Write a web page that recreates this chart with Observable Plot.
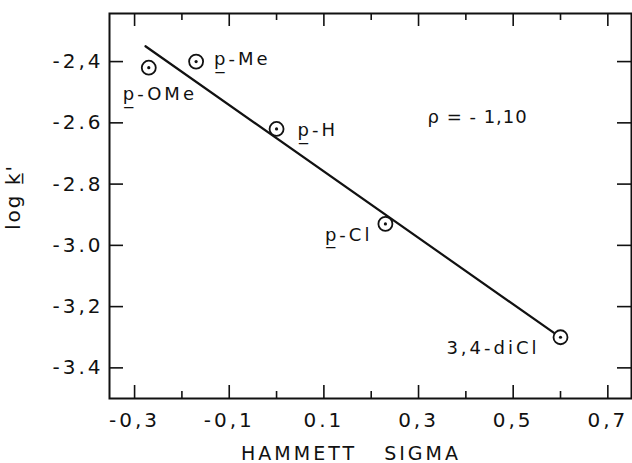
<!DOCTYPE html>
<html>
<head>
<meta charset="utf-8">
<script src="https://cdn.jsdelivr.net/npm/d3@7"></script>
<script src="https://cdn.jsdelivr.net/npm/@observablehq/plot@0.6"></script>
<style>
  html, body { margin: 0; padding: 0; background: #fff; }
  #chart svg { display: block; }
</style>
</head>
<body>
<div id="chart"></div>
<script>
// ---- data ----
const substituents = ["p\u0332-OMe", "p\u0332-Me", "p\u0332-H", "p\u0332-Cl", "3,4-diCl"];
const sigma = [-0.27, -0.17, 0.0, 0.23, 0.60];
const logK = [-2.42, -2.40, -2.62, -2.93, -3.30];

const fitSigma = [-0.277, 0.59];
const fitLogK = [-2.35, -3.29];

const xMajorTicks = [-0.3, -0.1, 0.1, 0.3, 0.5, 0.7];
const xMajorLabels = ["-0,3", "-0,1", "0.1", "0,3", "0,5", "0,7"];
const xMinorTicks = [-0.2, 0.0, 0.2, 0.4, 0.6];
const yTicks = [-2.4, -2.6, -2.8, -3.0, -3.2, -3.4];
const yTickLabels = ["-2,4", "-2.6", "-2.8", "-3.0", "-3,2", "-3.4"];

const rhoText = "\u03C1 = - 1,10";

// ---- layout (label placement in pixels) ----
const labelDx = [-26, 18, 21, -13, -21];
const labelDy = [27, -2, 1, 11, 11];
const labelAnchor = ["start", "start", "start", "end", "end"];

const points = substituents.map((name, i) => ({name, sigma: sigma[i], logK: logK[i], i}));
const fit = fitSigma.map((s, i) => ({sigma: s, logK: fitLogK[i]}));

const W = 632, H = 463;
const mt = 13, mb = 65, ml = 109, mr = 1;
const frameH = H - mt - mb;
const frameW = W - ml - mr;
const font = "DejaVu Sans, sans-serif";

const labelMarks = points.map(p => Plot.text([p], {
  x: "sigma", y: "logK", text: "name",
  dx: labelDx[p.i], dy: labelDy[p.i], textAnchor: labelAnchor[p.i],
  fontSize: 18, fill: "#111"
}));

const chart = Plot.plot({
  width: W, height: H,
  marginTop: mt, marginBottom: mb, marginLeft: ml, marginRight: mr,
  style: {fontFamily: font, background: "#fff", color: "#111", letterSpacing: "3px"},
  x: {domain: [-0.353, 0.75], label: null},
  y: {domain: [-3.5, -2.243], label: null},
  marks: [
    Plot.frame({stroke: "#111", strokeWidth: 2}),
    // major ticks bottom & top (inward)
    Plot.tickX(xMajorTicks, {x: d => d, insetTop: frameH - 13, stroke: "#111", strokeWidth: 1.6}),
    Plot.tickX(xMajorTicks, {x: d => d, insetBottom: frameH - 13, stroke: "#111", strokeWidth: 1.6}),
    Plot.tickX(xMinorTicks, {x: d => d, insetTop: frameH - 7, stroke: "#111", strokeWidth: 1.6}),
    Plot.tickX(xMinorTicks, {x: d => d, insetBottom: frameH - 7, stroke: "#111", strokeWidth: 1.6}),
    // y ticks left & right (inward)
    Plot.tickY(yTicks, {y: d => d, insetRight: frameW - 14, stroke: "#111", strokeWidth: 1.6}),
    Plot.tickY(yTicks, {y: d => d, insetLeft: frameW - 14, stroke: "#111", strokeWidth: 1.6}),
    Plot.axisX(xMajorTicks, {
      tickSize: 0, tickPadding: 14, fontSize: 20,
      tickFormat: d => xMajorLabels[xMajorTicks.indexOf(d)]
    }),
    Plot.axisY(yTicks, {
      tickSize: 0, tickPadding: 6, fontSize: 20,
      tickFormat: d => yTickLabels[yTicks.indexOf(d)]
    }),
    Plot.line(fit, {x: "sigma", y: "logK", stroke: "#111", strokeWidth: 2.2}),
    Plot.dot(points, {x: "sigma", y: "logK", r: 7, stroke: "#111", strokeWidth: 1.8, fill: "#fff"}),
    Plot.dot(points, {x: "sigma", y: "logK", r: 1.6, fill: "#111", stroke: null}),
    ...labelMarks,
    Plot.text([rhoText], {frameAnchor: "top-left", dx: 318, dy: 97, text: d => d, textAnchor: "start", fontSize: 18, fill: "#111"})
  ]
});

// axis titles as real text in the svg
const svg = d3.select(chart);
svg.selectAll("text").filter(function () { return this.textContent === rhoText; })
  .style("letter-spacing", "1px");
svg.append("text")
  .attr("x", 351).attr("y", 454)
  .attr("text-anchor", "middle").attr("dominant-baseline", "middle")
  .attr("font-size", 19).attr("letter-spacing", "3px")
  .attr("font-family", font).attr("fill", "#111")
  .text("HAMMETT   SIGMA");
svg.append("text")
  .attr("transform", "translate(14,197) rotate(-90)")
  .attr("text-anchor", "middle").attr("dominant-baseline", "middle")
  .attr("font-size", 20).attr("letter-spacing", "2px")
  .attr("font-family", font).attr("fill", "#111")
  .text("log k\u0332'");

document.getElementById("chart").appendChild(chart);
</script>
</body>
</html>
